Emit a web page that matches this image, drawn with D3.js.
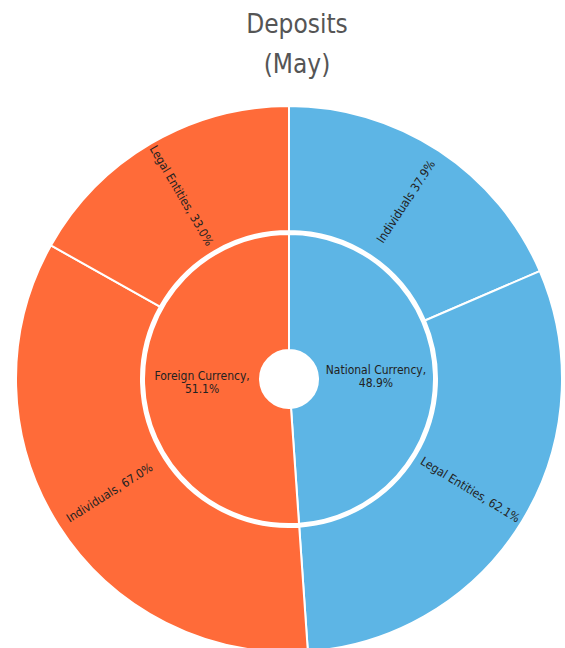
<!DOCTYPE html>
<html>
<head>
<meta charset="utf-8">
<script src="https://cdn.jsdelivr.net/npm/d3@7"></script>
<style>
  body { margin: 0; background: #fff; }
  svg text { font-family: "DejaVu Sans Condensed", "DejaVu Sans", sans-serif; font-stretch: condensed; }
</style>
</head>
<body>
<div id="chart"></div>
<script>
var groups = ["National Currency", "Foreign Currency"];
var groupShares = [48.9, 51.1];
var subLabels = ["Individuals", "Legal Entities"];
var subShares = [[37.9, 62.1], [67.0, 33.0]];
var subSeparators = [[" ", ", "], [", ", ", "]];
var colors = ["#5db5e5", "#ff6b39"];

var width = 565, height = 648;
var cx = 289, cy = 379;
var ringRadii = { 1: [29, 145], 2: [148, 273] };

var svg = d3.select("#chart").append("svg")
  .attr("width", width)
  .attr("height", height);

svg.append("text")
  .attr("x", 297).attr("y", 33)
  .attr("text-anchor", "middle")
  .attr("fill", "#555")
  .style("font-size", "26px")
  .text("Deposits");
svg.append("text")
  .attr("x", 297).attr("y", 73)
  .attr("text-anchor", "middle")
  .attr("fill", "#555")
  .style("font-size", "26px")
  .text("(May)");

var tree = {
  name: "root",
  children: groups.map(function(g, i) {
    return {
      name: g, share: groupShares[i], color: colors[i],
      children: subLabels.map(function(s, j) {
        return { name: s, share: subShares[i][j], sep: subSeparators[i][j], color: colors[i],
                 value: groupShares[i] * subShares[i][j] / 100 };
      })
    };
  })
};

var root = d3.hierarchy(tree).sum(function(d) { return d.value || 0; });
d3.partition().size([2 * Math.PI, 1])(root);

var arc = d3.arc()
  .startAngle(function(d) { return d.x0; })
  .endAngle(function(d) { return d.x1; })
  .innerRadius(function(d) { return ringRadii[d.depth][0]; })
  .outerRadius(function(d) { return ringRadii[d.depth][1]; });

var g = svg.append("g").attr("transform", "translate(" + cx + "," + cy + ")");

var nodes = root.descendants().filter(function(d) { return d.depth > 0; });

g.selectAll("path")
  .data(nodes)
  .enter().append("path")
  .attr("d", arc)
  .attr("fill", function(d) { return d.data.color; })
  .attr("stroke", "#fff")
  .attr("stroke-width", 2);

// inner labels, horizontal, two lines
root.children.forEach(function(d) {
  var c = arc.centroid(d);
  g.append("text")
    .attr("x", c[0]).attr("y", c[1] - 2)
    .attr("text-anchor", "middle")
    .attr("fill", "#222")
    .style("font-size", "12px")
    .text(d.data.name + ",");
  g.append("text")
    .attr("x", c[0]).attr("y", c[1] + 11)
    .attr("text-anchor", "middle")
    .attr("fill", "#222")
    .style("font-size", "12px")
    .text(d.data.share.toFixed(1) + "%");
});

// outer labels, radial
g.selectAll(".outer-label")
  .data(root.leaves())
  .enter().append("text")
  .attr("class", "outer-label")
  .attr("transform", function(d) {
    var a = (d.x0 + d.x1) / 2 * 180 / Math.PI;
    var r = (ringRadii[2][0] + ringRadii[2][1]) / 2 + 2;
    return "rotate(" + (a - 90) + ") translate(" + r + ",0) rotate(" + (a < 180 ? 0 : 180) + ")";
  })
  .attr("text-anchor", "middle")
  .attr("dy", "0.35em")
  .attr("fill", "#222")
  .style("font-size", "12px")
  .text(function(d) { return d.data.name + d.data.sep + d.data.share.toFixed(1) + "%"; });
</script>
</body>
</html>
